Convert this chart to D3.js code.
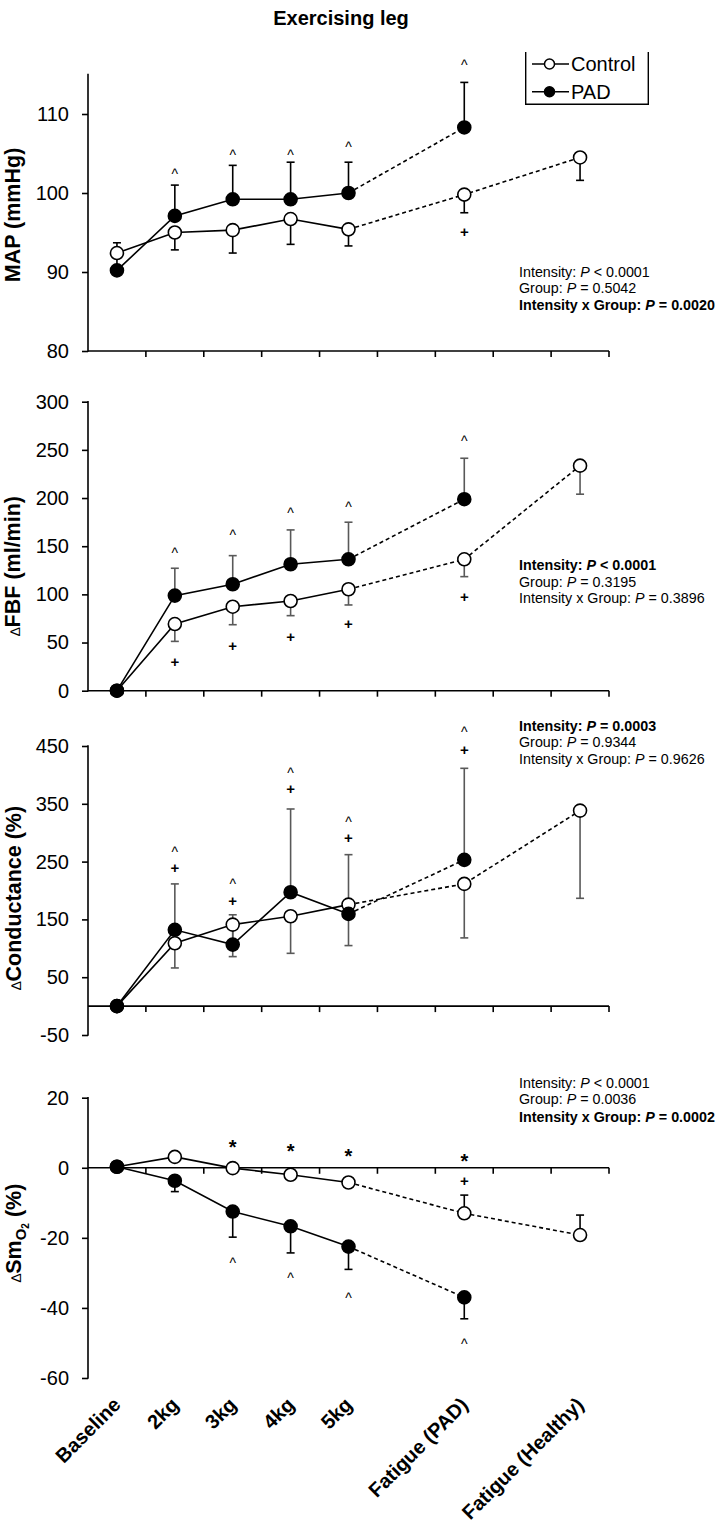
<!DOCTYPE html>
<html>
<head>
<meta charset="utf-8">
<script src="https://cdn.jsdelivr.net/npm/d3@7"></script>
<style>
  html, body { margin: 0; padding: 0; background: #fff; }
  svg { display: block; }
  text { font-family: "Liberation Sans", Arial, sans-serif; fill: #000; }
</style>
</head>
<body>
<svg id="chart" width="720" height="1531"></svg>
<script>
// ---------------- DATA ----------------
const categories = ["Baseline", "2kg", "3kg", "4kg", "5kg", "Fatigue (PAD)", "Fatigue (Healthy)"];
// category slots on the x axis (two empty slots)
const slots = ["Baseline", "2kg", "3kg", "4kg", "5kg", "gap1", "Fatigue (PAD)", "gap2", "Fatigue (Healthy)"];

// Panel 1: MAP (mmHg)
const mapControl   = [92.4, 95.0, 95.3, 96.7, 95.4, 99.8, 104.5];
const mapControlSD = [null, 2.2, 2.9, 3.2, 2.1, 2.3, 2.9];
const mapPAD       = [90.2, 97.1, 99.2, 99.2, 100.0, 108.3, null];
const mapPADSD     = [3.5, 3.9, 4.3, 4.7, 3.9, 5.7, null];
const mapTicks     = [80, 90, 100, 110];
const mapStats     = ["Intensity: *P* < 0.0001", "Group: *P* = 0.5042", "Intensity x Group: *P* = 0.0020"];
const mapAnnot     = [["2kg", "^", 102.7], ["3kg", "^", 105.1], ["4kg", "^", 105.2], ["5kg", "^", 106.2],
                      ["Fatigue (PAD)", "^", 116.5], ["Fatigue (PAD)", "+", 95.1]];

// Panel 2: ΔFBF (ml/min)
const fbfControl   = [0, 69.2, 87.2, 93.1, 105.3, 136.4, 233.6];
const fbfControlSD = [0, 18.0, 18.7, 15.2, 16.3, 18.0, 29.6];
const fbfPAD       = [0, 98.7, 110.5, 131.3, 136.4, 198.8, null];
const fbfPADSD     = [0, 28.4, 29.7, 35.6, 38.5, 42.5, null];
const fbfTicks     = [0, 50, 100, 150, 200, 250, 300];
const fbfStats     = ["Intensity: *P* < 0.0001", "Group: *P* = 0.3195", "Intensity x Group: *P* = 0.3896"];
const fbfAnnot     = [["2kg", "^", 146.1], ["3kg", "^", 164], ["4kg", "^", 187.6], ["5kg", "^", 193.5], ["Fatigue (PAD)", "^", 262],
                      ["2kg", "+", 29.5], ["3kg", "+", 46.4], ["4kg", "+", 56.1], ["5kg", "+", 68.9], ["Fatigue (PAD)", "+", 97.6]];

// Panel 3: ΔConductance (%)
const condControl   = [0, 108.7, 141, 155.4, 175.6, 211.4, 338.2];
const condControlSD = [0, 42.7, 55.4, 64.1, 70.9, 93.4, 151.7];
const condPAD       = [0, 132, 106.4, 197, 159.5, 253, null];
const condPADSD     = [0, 79.4, 51.6, 144, 102.5, 158.4, null];
const condTicks     = [-50, 50, 150, 250, 350, 450];
const condStats     = ["Intensity: *P* = 0.0003", "Group: *P* = 0.9344", "Intensity x Group: *P* = 0.9626"];
const condAnnot     = [["2kg", "^", 270.5], ["2kg", "+", 239.4], ["3kg", "^", 215.2], ["3kg", "+", 182.4],
                       ["4kg", "^", 407.5], ["4kg", "+", 375.6], ["5kg", "^", 323.2], ["5kg", "+", 290.3],
                       ["Fatigue (PAD)", "^", 478.9], ["Fatigue (PAD)", "+", 443.1]];

// Panel 4: ΔSmO2 (%)
const smoControl   = [0.3, 3.1, -0.1, -2.0, -4.2, -13.0, -19.2];
const smoControlSD = [null, null, null, null, null, 5.2, 5.7];
const smoPAD       = [0.3, -3.7, -12.5, -16.7, -22.5, -37.0, null];
const smoPADSD     = [null, 3.1, 7.3, 7.6, 6.5, 6.1, null];
const smoTicks     = [-60, -40, -20, 0, 20];
const smoStats     = ["Intensity: *P* < 0.0001", "Group: *P* = 0.0036", "Intensity x Group: *P* = 0.0002"];
const smoAnnot     = [["3kg", "*", 7.0], ["4kg", "*", 6.0], ["5kg", "*", 4.6], ["Fatigue (PAD)", "*", 3.2], ["Fatigue (PAD)", "+", -3.7],
                      ["3kg", "^", -26.3], ["4kg", "^", -30.8], ["5kg", "^", -36.3], ["Fatigue (PAD)", "^", -49.6]];

const seriesNames = ["Control", "PAD"];

// ---------------- LAYOUT ----------------
const svg = d3.select("#chart");
const FONT = '"Liberation Sans", Arial, sans-serif';
const axisX0 = 88, axisX1 = 609;

const x = d3.scaleBand().domain(slots).range([axisX0, axisX1]).paddingInner(0).paddingOuter(0);
const cx = c => x(c) + x.bandwidth() / 2;

const panels = [
  { domain: [80, 115], range: [351, 74.5], ticks: mapTicks, base: 80,
    ctrl: mapControl, ctrlSD: mapControlSD, pad: mapPAD, padSD: mapPADSD, ctrlDir: -1, padDir: 1,
    errColor: "#000", stats: mapStats, statsBold: 2, statsY: [276.5, 293, 309.5], annot: mapAnnot,
    label: [{ t: "MAP (mmHg)" }], labelX: 20, labelY: 215 },
  { domain: [0, 300], range: [690.7, 401.7], ticks: fbfTicks, base: 0,
    ctrl: fbfControl, ctrlSD: fbfControlSD, pad: fbfPAD, padSD: fbfPADSD, ctrlDir: -1, padDir: 1,
    errColor: "#595959", stats: fbfStats, statsBold: 0, statsY: [570, 586.5, 603], annot: fbfAnnot,
    label: [{ t: "\u2206", small: true }, { t: "FBF (ml/min)" }], labelX: 21, labelY: 566 },
  { domain: [-50, 450], range: [1035, 746], ticks: condTicks, base: 0,
    ctrl: condControl, ctrlSD: condControlSD, pad: condPAD, padSD: condPADSD, ctrlDir: -1, padDir: 1,
    errColor: "#595959", stats: condStats, statsBold: 0, statsY: [730.7, 747.3, 764.3], annot: condAnnot,
    label: [{ t: "\u2206", small: true }, { t: "Conductance (%)" }], labelX: 22, labelY: 898 },
  { domain: [-60, 20], range: [1378, 1097.7], ticks: smoTicks, base: 0,
    ctrl: smoControl, ctrlSD: smoControlSD, pad: smoPAD, padSD: smoPADSD, ctrlDir: 1, padDir: -1,
    errColor: "#000", stats: smoStats, statsBold: 2, statsY: [1087.7, 1104.3, 1122.3], annot: smoAnnot,
    label: [{ t: "\u2206", small: true }, { t: "Sm" }, { t: "O", sub: 1 }, { t: "2", sub: 2 }, { t: " (%)", sub: 0 }], labelX: 22, labelY: 1233 }
];

// Title
svg.append("text").attr("x", 341).attr("y", 25).attr("text-anchor", "middle")
  .style("font-size", "20px").style("font-weight", "bold").text("Exercising leg");

const symbolDy = { "^": 0.55, "+": 0.34, "*": 0.55 };
const symbolSize = { "^": 14, "+": 15, "*": 20 };
const symbolWeight = { "^": "normal", "+": "bold", "*": "bold" };

panels.forEach((p) => {
  const y = d3.scaleLinear().domain(p.domain).range(p.range);
  const g = svg.append("g");

  // y axis (left)
  const yAxis = d3.axisLeft(y).tickValues(p.ticks).tickFormat(d => String(d))
    .tickSize(6).tickPadding(13).tickSizeOuter(0);
  const ya = g.append("g").attr("transform", `translate(${axisX0},0)`).call(yAxis);
  ya.select(".domain").remove();
  ya.selectAll(".tick line").attr("stroke", "#000").attr("stroke-width", 1.6);
  ya.selectAll(".tick text").style("font-family", FONT).style("font-size", "20px").attr("fill", "#000");
  g.append("line").attr("x1", axisX0).attr("x2", axisX0)
    .attr("y1", y(p.domain[1]) - 0.8).attr("y2", y(p.domain[0]) + 0.8)
    .attr("stroke", "#000").attr("stroke-width", 1.6);

  // x axis line at base, with ticks at category boundaries
  const yb = y(p.base);
  g.append("line").attr("x1", axisX0).attr("x2", axisX1).attr("y1", yb).attr("y2", yb)
    .attr("stroke", "#000").attr("stroke-width", 1.6);
  g.selectAll(".xt").data(slots).enter().append("line")
    .attr("x1", d => x(d) + x.bandwidth()).attr("x2", d => x(d) + x.bandwidth())
    .attr("y1", yb).attr("y2", yb + 6).attr("stroke", "#000").attr("stroke-width", 1.6);

  // error bars
  const drawErr = (vals, sds, dir) => {
    categories.forEach((c, i) => {
      const v = vals[i], s = sds[i];
      if (v == null || s == null || s === 0) return;
      const y0 = y(v), y1 = y(v + dir * s);
      g.append("line").attr("x1", cx(c)).attr("x2", cx(c)).attr("y1", y0).attr("y2", y1)
        .attr("stroke", p.errColor).attr("stroke-width", 1.6);
      g.append("line").attr("x1", cx(c) - 4).attr("x2", cx(c) + 4).attr("y1", y1).attr("y2", y1)
        .attr("stroke", p.errColor).attr("stroke-width", 1.6);
    });
  };
  drawErr(p.ctrl, p.ctrlSD, p.ctrlDir);
  drawErr(p.pad, p.padSD, p.padDir);

  // lines
  const line = d3.line().x(d => cx(d.c)).y(d => y(d.v));
  const pts = vals => categories.map((c, i) => ({ c, v: vals[i] })).filter(d => d.v != null);
  [p.ctrl, p.pad].forEach(vals => {
    const all = pts(vals);
    const solid = all.filter(d => categories.indexOf(d.c) <= 4);
    const dashed = all.filter(d => categories.indexOf(d.c) >= 4);
    g.append("path").attr("d", line(solid)).attr("fill", "none").attr("stroke", "#000").attr("stroke-width", 1.6);
    g.append("path").attr("d", line(dashed)).attr("fill", "none").attr("stroke", "#000")
      .attr("stroke-width", 1.6).attr("stroke-dasharray", "4,3");
  });

  // markers
  [[p.ctrl, "#fff"], [p.pad, "#000"]].forEach(([vals, fill]) => {
    g.selectAll(null).data(pts(vals)).enter().append("circle")
      .attr("cx", d => cx(d.c)).attr("cy", d => y(d.v)).attr("r", 6.5)
      .attr("fill", fill).attr("stroke", "#000").attr("stroke-width", 1.6);
  });

  // significance symbols
  g.selectAll(null).data(p.annot).enter().append("text")
    .attr("x", d => cx(d[0]))
    .attr("y", d => y(d[2]) + symbolDy[d[1]] * symbolSize[d[1]])
    .attr("text-anchor", "middle")
    .style("font-size", d => symbolSize[d[1]] + "px").style("font-weight", d => symbolWeight[d[1]])
    .text(d => d[1]);

  // stats text
  p.stats.forEach((s, i) => {
    const t = g.append("text").attr("x", 519).attr("y", p.statsY[i])
      .style("font-size", "14.3px").style("font-weight", i === p.statsBold ? "bold" : "normal");
    s.split("*").forEach((part, k) => {
      if (!part) return;
      t.append("tspan").style("font-style", k % 2 === 1 ? "italic" : "normal").text(part);
    });
  });

  // y label
  const lab = g.append("text").attr("transform", `translate(${p.labelX},${p.labelY}) rotate(-90)`)
    .attr("text-anchor", "middle").style("font-size", "21.5px").style("font-weight", "bold");
  let curSub = 0;
  p.label.forEach(seg => {
    const ts = lab.append("tspan").text(seg.t);
    if (seg.small) ts.style("font-size", "14px").style("font-weight", "normal").attr("dy", "-0.05em");
    if (seg.sub !== undefined) {
      const shifts = [0, 5, 8];
      const sizes = [21.5, 15, 10];
      ts.attr("dy", shifts[seg.sub] - shifts[curSub]).style("font-size", sizes[seg.sub] + "px");
      curSub = seg.sub;
    }
  });
});

// Legend
const lg = svg.append("g");
lg.append("path").attr("d", "M525.7,52 V104.3 H648.3 V52").attr("fill", "none").attr("stroke", "#000").attr("stroke-width", 1.4);
seriesNames.forEach((name, i) => {
  const ly = [64, 91.7][i];
  lg.append("line").attr("x1", 532).attr("x2", 569).attr("y1", ly).attr("y2", ly).attr("stroke", "#000").attr("stroke-width", 1.6);
  lg.append("circle").attr("cx", 549.5).attr("cy", ly).attr("r", 5)
    .attr("fill", i === 0 ? "#fff" : "#000").attr("stroke", "#000").attr("stroke-width", 1.5);
  lg.append("text").attr("x", 571).attr("y", ly).attr("dy", "0.36em").style("font-size", "20px").text(name);
});

// X category labels (bottom)
svg.append("g").selectAll("text").data(categories).enter().append("text")
  .attr("transform", d => `translate(${cx(d) + 5},1406) rotate(-45)`)
  .attr("text-anchor", "end").style("font-size", "20px").style("font-weight", "bold")
  .text(d => d);
</script>
</body>
</html>
